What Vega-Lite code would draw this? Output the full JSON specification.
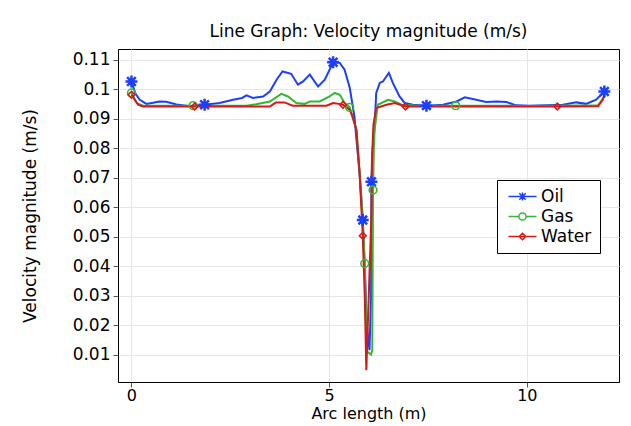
{
  "$schema": "https://vega.github.io/schema/vega-lite/v6.json",
  "width": 501,
  "height": 333,
  "autosize": {"type": "none"},
  "padding": {"left": 118, "top": 49, "right": 12, "bottom": 44},
  "background": "white",
  "config": {
    "font": "DejaVu Sans",
    "view": {"stroke": "black", "strokeWidth": 1},
    "axis": {"labelFont": "DejaVu Sans", "titleFont": "DejaVu Sans", "labelFontSize": 17, "titleFontSize": 17, "titleFontWeight": "normal", "labelColor": "black", "titleColor": "black", "domainColor": "black", "tickColor": "#555", "gridColor": "#e6e6e6", "gridWidth": 1}
  },
  "title": {"text": "Line Graph: Velocity magnitude (m/s)", "fontSize": 17, "fontWeight": "normal", "font": "DejaVu Sans", "anchor": "middle", "offset": 8, "color": "black"},
  "datasets": {
    "curves": [
      {"s":"Oil","x":0,"v":0.1026},{"s":"Oil","x":0.1,"v":0.0985},{"s":"Oil","x":0.21,"v":0.0964},{"s":"Oil","x":0.38,"v":0.095},{"s":"Oil","x":0.55,"v":0.0954},{"s":"Oil","x":0.71,"v":0.0958},{"s":"Oil","x":0.88,"v":0.0957},{"s":"Oil","x":1.14,"v":0.0948},{"s":"Oil","x":1.47,"v":0.0942},{"s":"Oil","x":1.85,"v":0.0947},{"s":"Oil","x":2.23,"v":0.0953},{"s":"Oil","x":2.57,"v":0.0964},{"s":"Oil","x":2.8,"v":0.097},{"s":"Oil","x":2.91,"v":0.0979},{"s":"Oil","x":3.07,"v":0.097},{"s":"Oil","x":3.33,"v":0.0975},{"s":"Oil","x":3.5,"v":0.0992},{"s":"Oil","x":3.67,"v":0.1032},{"s":"Oil","x":3.82,"v":0.106},{"s":"Oil","x":4.04,"v":0.1052},{"s":"Oil","x":4.21,"v":0.1015},{"s":"Oil","x":4.34,"v":0.1026},{"s":"Oil","x":4.51,"v":0.1049},{"s":"Oil","x":4.72,"v":0.1009},{"s":"Oil","x":4.89,"v":0.1032},{"s":"Oil","x":5.1,"v":0.1091},{"s":"Oil","x":5.27,"v":0.1089},{"s":"Oil","x":5.39,"v":0.1066},{"s":"Oil","x":5.52,"v":0.1005},{"s":"Oil","x":5.64,"v":0.0907},{"s":"Oil","x":5.69,"v":0.0828},{"s":"Oil","x":5.77,"v":0.0715},{"s":"Oil","x":5.85,"v":0.0556},{"s":"Oil","x":5.9,"v":0.04},{"s":"Oil","x":5.95,"v":0.02},{"s":"Oil","x":6.02,"v":0.0115},{"s":"Oil","x":6.06,"v":0.03},{"s":"Oil","x":6.07,"v":0.0686},{"s":"Oil","x":6.1,"v":0.08},{"s":"Oil","x":6.15,"v":0.0873},{"s":"Oil","x":6.19,"v":0.0987},{"s":"Oil","x":6.28,"v":0.1021},{"s":"Oil","x":6.36,"v":0.1026},{"s":"Oil","x":6.51,"v":0.1055},{"s":"Oil","x":6.61,"v":0.1021},{"s":"Oil","x":6.78,"v":0.0975},{"s":"Oil","x":6.91,"v":0.0953},{"s":"Oil","x":7.12,"v":0.0947},{"s":"Oil","x":7.46,"v":0.0944},{"s":"Oil","x":7.88,"v":0.0947},{"s":"Oil","x":8.22,"v":0.0958},{"s":"Oil","x":8.43,"v":0.0972},{"s":"Oil","x":8.72,"v":0.0964},{"s":"Oil","x":8.97,"v":0.0956},{"s":"Oil","x":9.23,"v":0.0958},{"s":"Oil","x":9.48,"v":0.0956},{"s":"Oil","x":9.73,"v":0.0945},{"s":"Oil","x":10.07,"v":0.0944},{"s":"Oil","x":10.91,"v":0.0947},{"s":"Oil","x":11.25,"v":0.0955},{"s":"Oil","x":11.5,"v":0.095},{"s":"Oil","x":11.75,"v":0.0964},{"s":"Oil","x":11.96,"v":0.0992},
      {"s":"Gas","x":0,"v":0.0987},{"s":"Gas","x":0.13,"v":0.0953},{"s":"Gas","x":0.29,"v":0.0944},{"s":"Gas","x":1.56,"v":0.0944},{"s":"Gas","x":2.91,"v":0.0944},{"s":"Gas","x":3.16,"v":0.0949},{"s":"Gas","x":3.5,"v":0.0958},{"s":"Gas","x":3.79,"v":0.0984},{"s":"Gas","x":3.96,"v":0.0975},{"s":"Gas","x":4.17,"v":0.0953},{"s":"Gas","x":4.38,"v":0.095},{"s":"Gas","x":4.51,"v":0.0958},{"s":"Gas","x":4.76,"v":0.0958},{"s":"Gas","x":5.01,"v":0.0975},{"s":"Gas","x":5.14,"v":0.0987},{"s":"Gas","x":5.27,"v":0.0981},{"s":"Gas","x":5.39,"v":0.0953},{"s":"Gas","x":5.52,"v":0.0938},{"s":"Gas","x":5.6,"v":0.09},{"s":"Gas","x":5.69,"v":0.0862},{"s":"Gas","x":5.77,"v":0.0715},{"s":"Gas","x":5.85,"v":0.056},{"s":"Gas","x":5.9,"v":0.0409},{"s":"Gas","x":5.93,"v":0.025},{"s":"Gas","x":5.96,"v":0.011},{"s":"Gas","x":6.06,"v":0.01},{"s":"Gas","x":6.09,"v":0.0115},{"s":"Gas","x":6.11,"v":0.0658},{"s":"Gas","x":6.13,"v":0.08},{"s":"Gas","x":6.15,"v":0.0862},{"s":"Gas","x":6.23,"v":0.0947},{"s":"Gas","x":6.49,"v":0.0964},{"s":"Gas","x":6.66,"v":0.0958},{"s":"Gas","x":6.83,"v":0.0947},{"s":"Gas","x":7.2,"v":0.0944},{"s":"Gas","x":8.2,"v":0.0944},{"s":"Gas","x":10,"v":0.0943},{"s":"Gas","x":11.8,"v":0.0945},{"s":"Gas","x":11.96,"v":0.0975},
      {"s":"Water","x":0,"v":0.0981},{"s":"Water","x":0.17,"v":0.0947},{"s":"Water","x":0.29,"v":0.0941},{"s":"Water","x":1.6,"v":0.0941},{"s":"Water","x":3.5,"v":0.0941},{"s":"Water","x":3.6,"v":0.095},{"s":"Water","x":3.66,"v":0.0955},{"s":"Water","x":3.87,"v":0.0955},{"s":"Water","x":4.08,"v":0.0944},{"s":"Water","x":4.93,"v":0.0944},{"s":"Water","x":5.1,"v":0.0953},{"s":"Water","x":5.25,"v":0.095},{"s":"Water","x":5.35,"v":0.0947},{"s":"Water","x":5.52,"v":0.093},{"s":"Water","x":5.6,"v":0.0905},{"s":"Water","x":5.69,"v":0.0862},{"s":"Water","x":5.77,"v":0.0715},{"s":"Water","x":5.85,"v":0.0503},{"s":"Water","x":5.9,"v":0.03},{"s":"Water","x":5.94,"v":0.0047},{"s":"Water","x":6.07,"v":0.058},{"s":"Water","x":6.08,"v":0.075},{"s":"Water","x":6.12,"v":0.088},{"s":"Water","x":6.19,"v":0.0936},{"s":"Water","x":6.45,"v":0.0947},{"s":"Water","x":6.66,"v":0.0953},{"s":"Water","x":6.93,"v":0.0941},{"s":"Water","x":10.77,"v":0.0941},{"s":"Water","x":11.8,"v":0.0942},{"s":"Water","x":11.92,"v":0.0964},{"s":"Water","x":11.96,"v":0.0981}
    ],
    "markers": [
      {"s":"Oil","x":0,"v":0.1026},{"s":"Oil","x":1.85,"v":0.0947},{"s":"Oil","x":5.1,"v":0.1091},{"s":"Oil","x":5.85,"v":0.0556},{"s":"Oil","x":6.07,"v":0.0686},{"s":"Oil","x":7.46,"v":0.0944},{"s":"Oil","x":11.96,"v":0.0992},
      {"s":"Gas","x":0,"v":0.0987},{"s":"Gas","x":1.56,"v":0.0944},{"s":"Gas","x":5.52,"v":0.0938},{"s":"Gas","x":5.9,"v":0.0409},{"s":"Gas","x":6.11,"v":0.0658},{"s":"Gas","x":8.2,"v":0.0944},
      {"s":"Water","x":0,"v":0.0981},{"s":"Water","x":1.6,"v":0.0941},{"s":"Water","x":5.35,"v":0.0947},{"s":"Water","x":5.85,"v":0.0503},{"s":"Water","x":6.93,"v":0.0941},{"s":"Water","x":10.77,"v":0.0941}
    ]
  },
  "encoding": {
    "x": {"field": "x", "type": "quantitative", "scale": {"domain": [-0.34, 12.33], "nice": false, "zero": false},
      "axis": {"title": "Arc length (m)", "values": [0, 5, 10], "grid": true, "tickSize": 5, "labelPadding": 0, "labelFontSize": 16, "titleFontSize": 16, "titlePadding": 2, "labelFlush": false}},
    "y": {"field": "v", "type": "quantitative", "scale": {"domain": [0.0007, 0.1136], "nice": false, "zero": false},
      "axis": {"title": "Velocity magnitude (m/s)", "values": [0.01,0.02,0.03,0.04,0.05,0.06,0.07,0.08,0.09,0.1,0.11], "format": "~g", "grid": true, "tickSize": 5, "labelPadding": 3, "titlePadding": 33}},
    "color": {"field": "s", "type": "nominal", "scale": {"domain": ["Oil", "Gas", "Water"], "range": ["#1c3ffd", "#33b833", "#d81818"]},
      "legend": {"title": null, "orient": "none", "legendX": 379, "legendY": 131, "fillColor": "white", "strokeColor": "black", "padding": 8, "symbolSize": 64, "symbolOffset": 9, "labelOffset": 10, "labelFont": "DejaVu Sans", "labelFontSize": 17, "labelColor": "black", "rowPadding": 2,
        "encode": {"symbols": {"update": {"shape": {"signal": "datum.value == 'Oil' ? 'M-3.5,0H3.5M0,-1V1M-0.8,-0.8L0.8,0.8M-0.8,0.8L0.8,-0.8' : datum.value == 'Gas' ? 'M-3.5,0H-0.9M0.9,0H3.5M-0.9,0A0.9,0.9 0 1,0 0.9,0A0.9,0.9 0 1,0 -0.9,0' : 'M-3.5,0H3.5M0,-0.8L0.8,0L0,0.8L-0.8,0Z'"}, "strokeWidth": {"value": 1.5}, "fill": {"value": "transparent"}}}}}
    }
  },
  "layer": [
    {"data": {"name": "curves"}, "transform": [{"filter": "datum.s == 'Oil'"}], "mark": {"type": "line", "strokeWidth": 2, "clip": true}},
    {"data": {"name": "curves"}, "transform": [{"filter": "datum.s == 'Gas'"}], "mark": {"type": "line", "strokeWidth": 2, "clip": true}},
    {"data": {"name": "curves"}, "transform": [{"filter": "datum.s == 'Water'"}], "mark": {"type": "line", "strokeWidth": 2, "clip": true}},
    {"data": {"name": "markers"}, "transform": [{"filter": "datum.s == 'Oil'"}], "mark": {"type": "point", "filled": false, "shape": "M-1,0H1M0,-1V1M-0.72,-0.72L0.72,0.72M-0.72,0.72L0.72,-0.72", "size": 144, "strokeWidth": 2.5, "opacity": 1}},
    {"data": {"name": "markers"}, "transform": [{"filter": "datum.s == 'Gas'"}], "mark": {"type": "point", "filled": false, "shape": "circle", "size": 60, "strokeWidth": 1.6, "opacity": 1}},
    {"data": {"name": "markers"}, "transform": [{"filter": "datum.s == 'Water'"}], "mark": {"type": "point", "filled": false, "shape": "diamond", "size": 45, "strokeWidth": 1.6, "opacity": 1}}
  ]
}
